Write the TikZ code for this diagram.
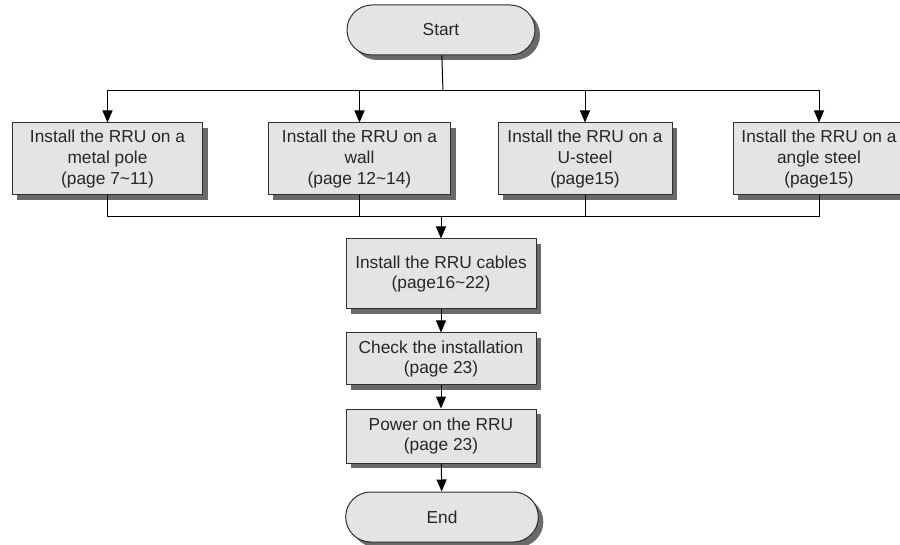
\documentclass[tikz,border=0pt]{standalone}
\usepackage{fontspec}
\setmainfont{Liberation Sans}
\usetikzlibrary{arrows.meta,shapes.misc,shadows}
\definecolor{boxfill}{HTML}{E4E4E4}
\definecolor{boxline}{HTML}{303030}
\definecolor{boxshade}{HTML}{6A6A6A}
\tikzset{
  procbox/.style={draw=boxline, line width=0.75pt, fill=boxfill, align=center, text=black!85,
    minimum height=54pt, inner sep=2pt, font=\fontsize{13}{15.5}\selectfont,
    drop shadow={shadow xshift=3.75pt, shadow yshift=-3.75pt, fill=boxshade, opacity=1}},
  termbox/.style={procbox, rounded rectangle, minimum width=145pt, minimum height=37.5pt},
  arr/.style={-{Triangle[length=9pt,width=7.5pt]}, line width=0.75pt, draw=black},
  link/.style={line width=0.75pt, draw=black}
}
\begin{document}
\begin{tikzpicture}[x=0.75pt,y=-0.75pt]
  \useasboundingbox (0,0) rectangle (900,545);
  \node[termbox] (start) at (441,30) {Start};
  \node[procbox, minimum width=143pt] (b1) at (107.5,159) {Install the RRU on a\\metal pole\\(page 7\textasciitilde 11)};
  \node[procbox, minimum width=137pt] (b2) at (359.5,159) {Install the RRU on a\\wall\\(page 12\textasciitilde 14)};
  \node[procbox, minimum width=130.5pt] (b3) at (585,159) {Install the RRU on a\\U-steel\\(page15)};
  \node[procbox, minimum width=129pt] (b4) at (819,159) {Install the RRU on a\\angle steel\\(page15)};
  \node[procbox, minimum width=142.5pt, minimum height=52.5pt] (cables) at (441,274) {Install the RRU cables\\(page16\textasciitilde 22)};
  \node[procbox, minimum width=142.5pt, minimum height=39pt] (check) at (441,359) {Check the installation\\(page 23)};
  \node[procbox, minimum width=142.5pt, minimum height=40.5pt] (power) at (441,436) {Power on the RRU\\(page 23)};
  \node[termbox, minimum width=148.5pt] (end) at (442,517) {End};
  \coordinate (split) at (443,91);
  \coordinate (join) at (441,217);
  \draw[link] (start) -- (split);
  \draw[link] (b1.north |- split) -- (b4.north |- split);
  \draw[arr] (split) -| (b1);
  \draw[arr] (split) -| (b2);
  \draw[arr] (split) -| (b3);
  \draw[arr] (split) -| (b4);
  \draw[link] (b1) |- (join);
  \draw[link] (b2) |- (join);
  \draw[link] (b3) |- (join);
  \draw[link] (b4) |- (join);
  \draw[arr] (join) -- (cables);
  \draw[arr] (cables) -- (check);
  \draw[arr] (check) -- (power);
  \draw[arr] (power) -- (end);
\end{tikzpicture}
\end{document}
